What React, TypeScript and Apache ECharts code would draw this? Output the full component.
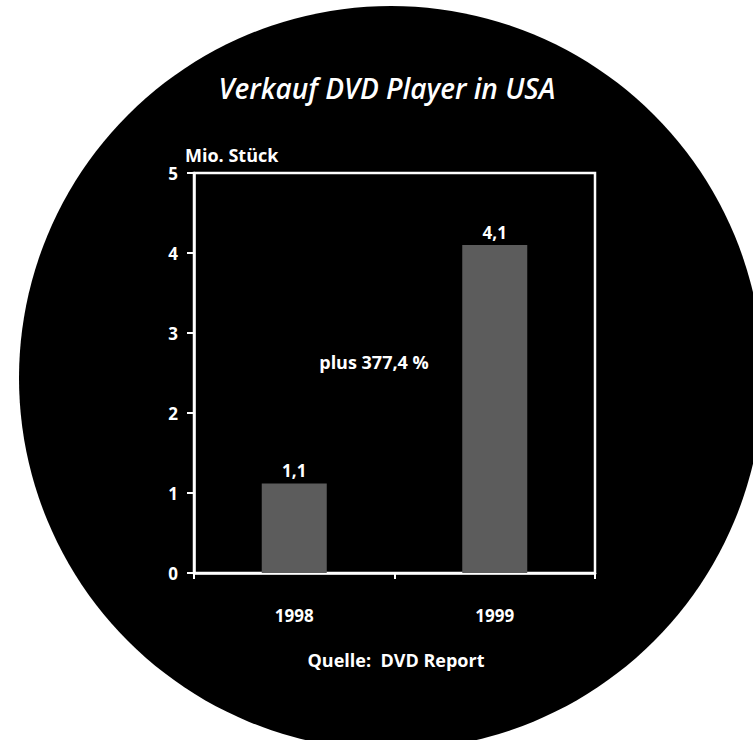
import React, { useEffect, useRef } from "react";
import * as echarts from "echarts";

const categories = ["1998", "1999"];
const values = [1.12, 4.1];
const valueLabels = ["1,1", "4,1"];
const yTicks = { min: 0, max: 5, interval: 1 };
const titleText = "Verkauf DVD Player in USA";
const axisName = "Mio. Stück";
const noteText = "plus 377,4 %";
const sourceText = "Quelle:  DVD Report";

const FONT = "'Open Sans', Lato, sans-serif";

export default function App() {
  const ref = useRef<HTMLDivElement>(null);
  useEffect(() => {
    document.body.style.margin = "0";
    const chart = echarts.init(ref.current!, null, { renderer: "svg" });
    chart.setOption({
      animation: false,
      backgroundColor: "#ffffff",
      textStyle: { fontFamily: FONT },
      graphic: [
        {
          type: "circle",
          z: -10,
          silent: true,
          shape: { cx: 391, cy: 378, r: 372 },
          style: { fill: "#000000" },
        },
        {
          type: "text",
          z: 10,
          x: 387,
          y: 88,
          style: {
            text: titleText,
            fill: "#ffffff",
            font: `italic 600 28px ${FONT}`,
            textAlign: "center",
            textVerticalAlign: "middle",
          },
        },
        {
          type: "text",
          z: 10,
          x: 374,
          y: 362,
          style: {
            text: noteText,
            fill: "#ffffff",
            font: `bold 18px ${FONT}`,
            textAlign: "center",
            textVerticalAlign: "middle",
          },
        },
        {
          type: "text",
          z: 10,
          x: 396,
          y: 660,
          style: {
            text: sourceText,
            fill: "#ffffff",
            font: `bold 18px ${FONT}`,
            textAlign: "center",
            textVerticalAlign: "middle",
          },
        },
      ],
      grid: {
        left: 194,
        top: 173,
        width: 401,
        height: 400,
        show: true,
        borderColor: "#ffffff",
        borderWidth: 2.5,
        backgroundColor: "transparent",
      },
      xAxis: {
        type: "category",
        data: categories,
        boundaryGap: true,
        axisLine: { show: true, lineStyle: { color: "#ffffff", width: 2.5 } },
        axisTick: { show: true, length: 6, lineStyle: { color: "#ffffff", width: 2 } },
        axisLabel: {
          color: "#ffffff",
          fontFamily: FONT,
          fontWeight: "bold",
          fontSize: 17,
          margin: 34,
        },
        splitLine: { show: false },
      },
      yAxis: {
        type: "value",
        min: yTicks.min,
        max: yTicks.max,
        interval: yTicks.interval,
        name: axisName,
        nameLocation: "end",
        nameGap: 9,
        nameTextStyle: {
          color: "#ffffff",
          fontFamily: FONT,
          fontWeight: "bold",
          fontSize: 18,
          align: "left",
          padding: [0, 0, 0, -9],
        },
        axisLine: { show: true, lineStyle: { color: "#ffffff", width: 2.5 } },
        axisTick: { show: true, inside: false, length: 7, lineStyle: { color: "#ffffff", width: 2 } },
        axisLabel: {
          color: "#ffffff",
          fontFamily: FONT,
          fontWeight: "bold",
          fontSize: 17,
          margin: 16,
        },
        splitLine: { show: false },
      },
      series: [
        {
          type: "bar",
          data: values,
          barWidth: 65,
          itemStyle: { color: "#5c5c5c" },
          label: {
            show: true,
            position: "top",
            distance: 4,
            color: "#ffffff",
            fontFamily: FONT,
            fontWeight: "bold",
            fontSize: 17,
            formatter: (p: any) => valueLabels[p.dataIndex],
          },
        },
      ],
    });
    return () => chart.dispose();
  }, []);
  return <div ref={ref} style={{ width: 753, height: 740 }} />;
}
